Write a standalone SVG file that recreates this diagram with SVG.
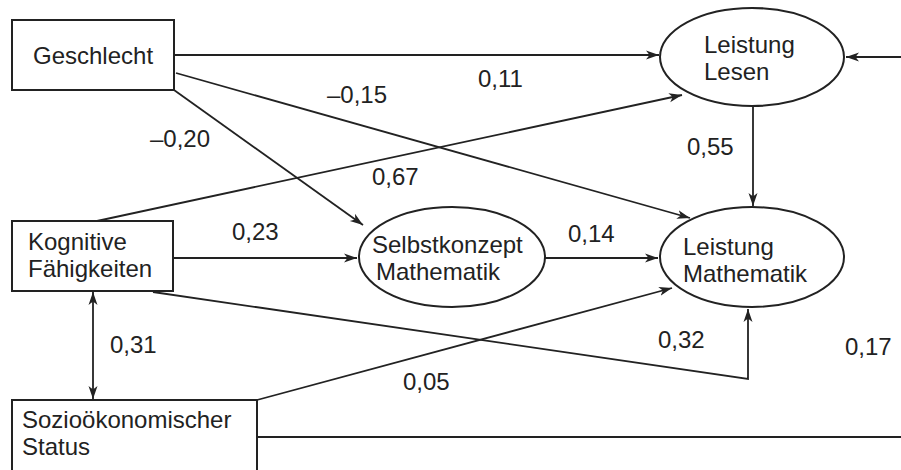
<svg xmlns="http://www.w3.org/2000/svg" width="901" height="470" viewBox="0 0 901 470">
<defs>
<marker id="ah" markerUnits="userSpaceOnUse" markerWidth="14" markerHeight="10" refX="13" refY="5" orient="auto-start-reverse">
<path d="M0,0.5 L13,5 L0,9.5 L3.5,5 Z" fill="#222"/>
</marker>
<style>
.box{fill:#fff;stroke:#222;stroke-width:2}
.ell{fill:#fff;stroke:#222;stroke-width:2}
.t{font-family:"Liberation Sans",Arial,sans-serif;font-size:24px;fill:#222}
.c{fill:none;stroke:#222;stroke-width:1.8}
.a{marker-end:url(#ah)}
</style>
</defs>
<rect width="901" height="470" fill="#fff"/>
<g id="connectors">
<path class="c a" d="M174,55 H659"/>
<path class="c a" d="M176,73 L690,218"/>
<path class="c a" d="M174,90 L363,225"/>
<path class="c a" d="M97,221 L682,95"/>
<path class="c a" d="M173,258 H357"/>
<path class="c a" d="M545,258 H658"/>
<path class="c a" d="M753,106 V206"/>
<path class="c a" d="M153,292 L748,379 V309"/>
<path class="c a" d="M257,400 L672,288"/>
<path class="c a" d="M93,292 V399" marker-start="url(#ah)"/>
<path class="c a" d="M901,57 H846"/>
<path class="c" d="M257,437 H901"/>
</g>
<g id="labels">
<text class="t" x="478" y="87">0,11</text>
<text class="t" x="327" y="103">–0,15</text>
<text class="t" x="150" y="147">–0,20</text>
<text class="t" x="372" y="185">0,67</text>
<text class="t" x="687" y="155">0,55</text>
<text class="t" x="232" y="240">0,23</text>
<text class="t" x="568" y="242">0,14</text>
<text class="t" x="110" y="353">0,31</text>
<text class="t" x="658" y="348">0,32</text>
<text class="t" x="845" y="355">0,17</text>
<text class="t" x="403" y="390">0,05</text>
</g>
<g id="geschlecht">
<rect class="box" x="12" y="20" width="162" height="70"/>
<text class="t" x="33" y="64">Geschlecht</text>
</g>
<g id="kognitive">
<rect class="box" x="12" y="221" width="161" height="70"/>
<text class="t" x="28" y="249.8">Kognitive</text>
<text class="t" x="28" y="277.2">Fähigkeiten</text>
</g>
<g id="sozio">
<rect class="box" x="12" y="400" width="245" height="80"/>
<text class="t" x="22" y="427.8">Sozioökonomischer</text>
<text class="t" x="22" y="455.2">Status</text>
</g>
<g id="lesen">
<ellipse class="ell" cx="752" cy="57" rx="92" ry="49"/>
<text class="t" x="704" y="52.8">Leistung</text>
<text class="t" x="704" y="80.2">Lesen</text>
</g>
<g id="selbstkonzept">
<ellipse class="ell" cx="452" cy="257" rx="93" ry="50"/>
<text class="t" x="372" y="252.8">Selbstkonzept</text>
<text class="t" x="376" y="280.2">Mathematik</text>
</g>
<g id="mathematik">
<ellipse class="ell" cx="752" cy="257" rx="92" ry="50"/>
<text class="t" x="683" y="254.8">Leistung</text>
<text class="t" x="683" y="282.2">Mathematik</text>
</g>
</svg>
